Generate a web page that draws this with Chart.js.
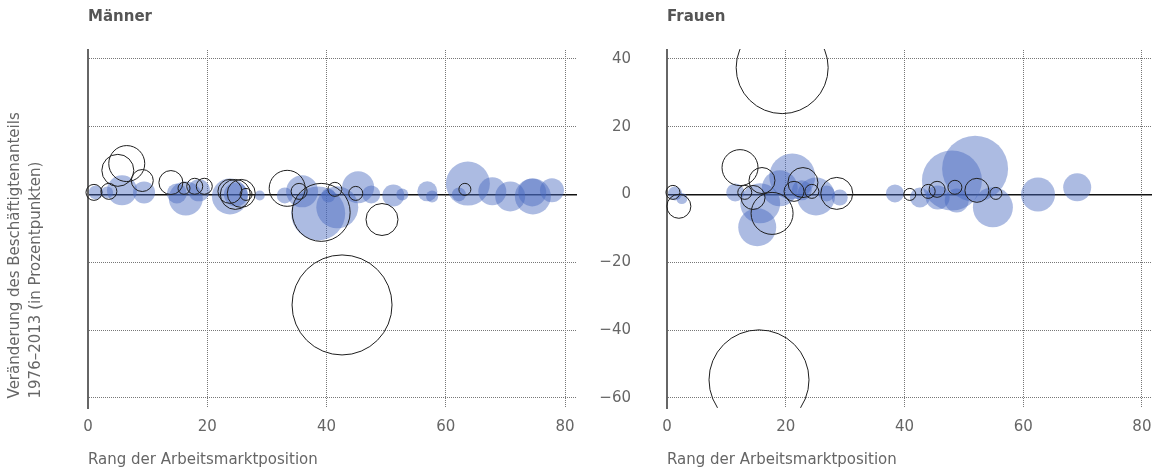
<!DOCTYPE html>
<html>
<head>
<meta charset="utf-8">
<script src="https://cdn.jsdelivr.net/npm/chart.js@4.4.1/dist/chart.umd.min.js"></script>
<style>
  html, body { margin: 0; padding: 0; background: #fff; }
  #wrap { position: relative; width: 1152px; height: 471px; }
  #men { position: absolute; left: 0; top: 0; }
  #women { position: absolute; left: 580px; top: 0; }
</style>
</head>
<body>
<div id="wrap">
  <canvas id="men" width="580" height="471"></canvas>
  <canvas id="women" width="572" height="471"></canvas>
</div>
<script>
// tick labels
const xTicks = [0, 20, 40, 60, 80];
const yTicks = [-60, -40, -20, 0, 20, 40];

// Männer - filled bubbles
const menFilledX = [1.3, 3.2, 5.7, 9.4, 14.9, 16.4, 18.6, 23.8, 24.8, 28.8, 33.0, 35.9, 38.6, 41.8, 40.3, 45.3, 47.5, 51.2, 52.7, 56.9, 57.7, 63.7, 62.2, 67.8, 70.8, 74.6, 74.5, 77.8];
const menFilledY = [0.6, 0.6, 1.2, 0.6, 0.3, -1.2, 1.2, -0.6, 0, -0.3, -0.3, 0.9, -5.6, -3.8, -0.3, 2.1, 0, -0.3, 0, 0.9, -0.6, 3.2, 0, 0.9, -0.6, -0.6, 0.6, 1.2];
const menFilledSize = [7, 6, 15, 11, 10, 17, 11, 18, 12, 5, 8, 16, 27, 21, 7, 16, 9, 11, 6, 10, 6, 22, 7, 14, 15, 18, 14, 12];

// Männer - open circles
const menOpenX = [1.0, 3.5, 5.0, 6.5, 9.1, 13.9, 16.1, 17.9, 19.5, 23.8, 24.7, 25.7, 26.5, 33.4, 35.4, 39.1, 41.4, 44.9, 49.3, 63.2, 42.6];
const menOpenY = [0.6, 0.9, 7.1, 9.1, 4.1, 3.5, 1.8, 2.4, 2.4, 0.9, 0, 0.3, 0, 1.8, 0.9, -5.3, 1.5, 0.3, -7.4, 1.5, -32.6];
const menOpenSize = [8, 8, 16, 18, 11, 12, 6, 8, 8, 12, 15, 14, 6, 18, 8, 29, 7, 7, 16, 6, 50];

// Frauen - filled bubbles
const womenFilledX = [1.35, 2.5, 11.5, 15.2, 15.7, 19.0, 21.1, 22.7, 25.1, 26.9, 29.1, 38.4, 42.6, 45.6, 48.0, 51.9, 48.8, 54.9, 62.5, 69.1];
const womenFilledY = [0.3, -1.2, 0.6, -9.7, -2.6, 1.8, 5.3, 1.2, -0.6, 0.3, -0.9, 0.3, -0.9, -0.9, 4.1, 7.6, -1.8, -3.8, 0, 2.1];
const womenFilledSize = [7, 5.5, 9, 19, 20, 18, 23, 10, 19, 8, 8, 9, 10, 12, 30, 33, 12, 20, 17, 14];

// Frauen - open circles
const womenOpenX = [1.0, 2.0, 12.3, 13.1, 16.0, 14.5, 17.7, 21.4, 22.9, 24.4, 28.6, 40.9, 44.0, 45.5, 48.5, 52.2, 55.4, 19.4, 15.5];
const womenOpenY = [0.6, -3.5, 7.9, 0.6, 4.1, -0.9, -5.6, 0.9, 3.5, 0.9, 0.3, 0, 0.9, 1.5, 2.1, 1.2, 0.3, 37.4, -54.7];
const womenOpenSize = [7, 12, 18, 7, 13, 12, 21, 10, 15, 7, 16, 6, 7, 8, 7, 12, 6, 46, 50];

const toPoints = (xs, ys, rs) => xs.map((x, i) => ({ x: x, y: ys[i], r: rs[i] }));

Chart.defaults.font.family = "'DejaVu Sans', sans-serif";
Chart.defaults.font.size = 15;
Chart.defaults.color = '#666';

function makeChart(id, title, filled, open, opts) {
  const ctx = document.getElementById(id).getContext('2d');
  return new Chart(ctx, {
    type: 'bubble',
    data: {
      datasets: [{
        data: open,
        backgroundColor: 'rgba(0,0,0,0)',
        borderColor: '#1e1e1e',
        borderWidth: 1,
        order: 0,
        clip: { left: 12, right: 12, top: 1, bottom: 0 }
      }, {
        data: filled,
        backgroundColor: 'rgba(70,105,190,0.45)',
        borderWidth: 0,
        order: 1,
        clip: { left: 12, right: 12, top: 1, bottom: 0 }
      }]
    },
    options: {
      responsive: false,
      animation: false,
      layout: { autoPadding: false, padding: { left: 0, right: opts.padRight, top: 0, bottom: 0 } },
      plugins: {
        legend: { display: false },
        tooltip: { enabled: false },
        title: {
          display: true,
          text: title,
          align: 'start',
          fullSize: false,
          color: '#555',
          font: { size: 15, weight: 'bold' },
          padding: { top: 8, bottom: 24 }
        }
      },
      scales: {
        x: {
          type: 'linear',
          min: 0,
          max: opts.xMax,
          afterBuildTicks: s => { s.ticks = xTicks.map(v => ({ value: v })); },
          afterFit: s => { s.height = 63; s.paddingLeft = 0; s.paddingRight = 0; },
          ticks: { padding: 10, color: '#666' },
          grid: {
            drawTicks: false,
            color: c => (c.tick && c.tick.value === 0) ? 'rgba(0,0,0,0)' : '#777',
            lineWidth: 1
          },
          border: { display: false, dash: [1, 1] },
          title: {
            display: true,
            text: 'Rang der Arbeitsmarktposition',
            align: 'start',
            color: '#666',
            padding: { top: 15, bottom: 2 }
          }
        },
        y: {
          type: 'linear',
          min: -63,
          max: 42.6,
          afterBuildTicks: s => { s.ticks = yTicks.map(v => ({ value: v })); },
          afterFit: s => { s.width = opts.yWidth; },
          ticks: {
            display: opts.showYTicks,
            padding: 36,
            color: '#666',
            callback: v => v < 0 ? '\u2212' + Math.abs(v) : String(v)
          },
          grid: {
            drawTicks: false,
            color: c => (c.tick && c.tick.value === 0) ? '#111' : '#777',
            lineWidth: c => (c.tick && c.tick.value === 0) ? 1.5 : 1
          },
          border: {
            display: true,
            color: '#666',
            width: 2,
            dash: c => (c.tick && c.tick.value === 0) ? [] : [1, 1]
          },
          title: {
            display: opts.showYTitle,
            // two leading spaces lift the bottom-aligned lines off the axis end
            text: ['  Veränderung des Beschäftigtenanteils', '  1976–2013 (in Prozentpunkten)'],
            align: 'start',
            color: '#666',
            font: { size: 15, lineHeight: 1.4 },
            padding: { top: 4.5, bottom: 0 }
          }
        }
      }
    }
  });
}

makeChart('men', 'Männer',
  toPoints(menFilledX, menFilledY, menFilledSize),
  toPoints(menOpenX, menOpenY, menOpenSize),
  { padRight: 3, xMax: 82, yWidth: 88, showYTicks: false, showYTitle: true });

makeChart('women', 'Frauen',
  toPoints(womenFilledX, womenFilledY, womenFilledSize),
  toPoints(womenOpenX, womenOpenY, womenOpenSize),
  { padRight: 0, xMax: 81.7, yWidth: 87, showYTicks: true, showYTitle: false });
</script>
</body>
</html>
